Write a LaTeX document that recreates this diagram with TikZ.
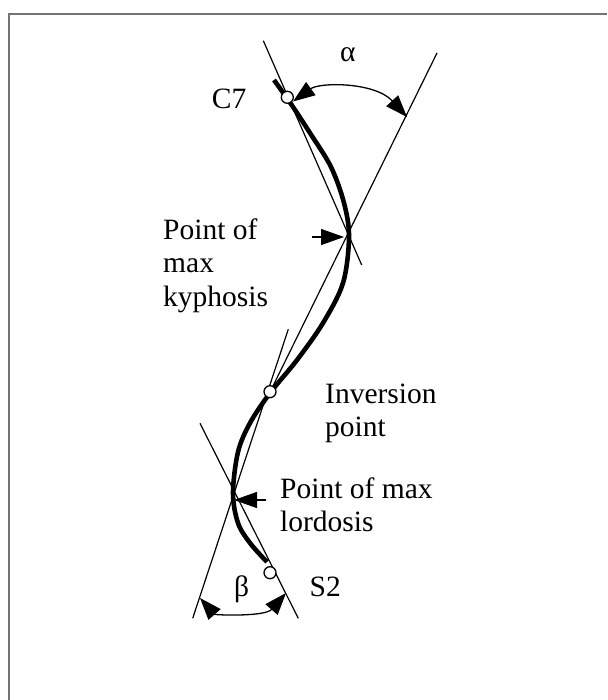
\documentclass[tikz,border=0pt]{standalone}
\usepackage{fontspec}
\setmainfont{Liberation Serif}
\usetikzlibrary{arrows.meta}
\begin{document}
\begin{tikzpicture}[x=1pt,y=-1pt,
  thinline/.style={line width=1.2pt,black},
  spine/.style={line width=4.6pt,black,line cap=butt},
  marker/.style={circle,draw=black,fill=white,line width=1.3pt,minimum size=12pt,inner sep=0pt},
  anglearc/.style={line width=1.3pt,{Triangle[length=22pt,width=16pt]}-{Triangle[length=22pt,width=16pt]}},
  pointer/.style={line width=1.3pt,-{Triangle[length=23pt,width=16pt]}},
  lbl/.style={font=\fontsize{29.5}{33.5}\selectfont,inner sep=0pt,align=left,anchor=base west},
  frame/.style={line width=1.4pt,draw=black!55}]
\useasboundingbox (0,0) rectangle (607,700);
\draw[frame] (9,700) -- (9,14) -- (607,14);
% tangent lines
\coordinate (l1a) at (263.3,40.7);
\coordinate (l1b) at (361.7,265);
\coordinate (l2a) at (437,53);
\coordinate (l2b) at (272,388);
\coordinate (l3a) at (192.7,618.3);
\coordinate (l3b) at (288.3,329.3);
\coordinate (l4a) at (200,423.3);
\coordinate (l4b) at (298.3,618.3);
\draw[thinline] (l1a) -- (l1b);
\draw[thinline] (l2a) -- (l2b);
\draw[thinline] (l3a) -- (l3b);
\draw[thinline] (l4a) -- (l4b);
% spine curve
\draw[spine] plot[smooth,tension=0.55] coordinates {(274,80) (291,104) (310,133) (331,167) (344,203) (349,237) (343,283) (323,323) (297,360) (270,393) (250,423) (238,452) (233,493) (238,523) (250,543) (267,562)};
% markers
\node[marker] (c7) at (287.3,97.3) {};
\node[marker] (inv) at (270,391.7) {};
\node[marker] (s2) at (270,572.7) {};
% angle arcs
\coordinate (a1) at (293,101.5);
\coordinate (a2) at (407,117);
\draw[anglearc] (a1) .. controls (320,82) and (375,82) .. (a2);
\coordinate (b1) at (200,598);
\coordinate (b2) at (286,593);
\draw[anglearc] (b1) .. controls (215,615) and (265,617) .. (b2);
% pointers
\coordinate (kt) at (311.7,237);
\coordinate (kh) at (344,237);
\draw[pointer] (kt) -- (kh);
\coordinate (lt) at (266,500);
\coordinate (lh) at (234,500);
\draw[pointer] (lt) -- (lh);
% labels (anchor = baseline of last line)
\node[lbl] (alpha) at (340,62) {α};
\node[lbl] (c7l) at (211.7,108.3) {C7};
\node[lbl] (kyph) at (163,306.3) {Point of\\max\\kyphosis};
\node[lbl] (invl) at (325,436.8) {Inversion\\point};
\node[lbl] (lord) at (280,531.8) {Point of max\\lordosis};
\node[lbl] (beta) at (234,596.7) {β};
\node[lbl] (s2l) at (309.5,596.7) {S2};
\end{tikzpicture}
\end{document}
